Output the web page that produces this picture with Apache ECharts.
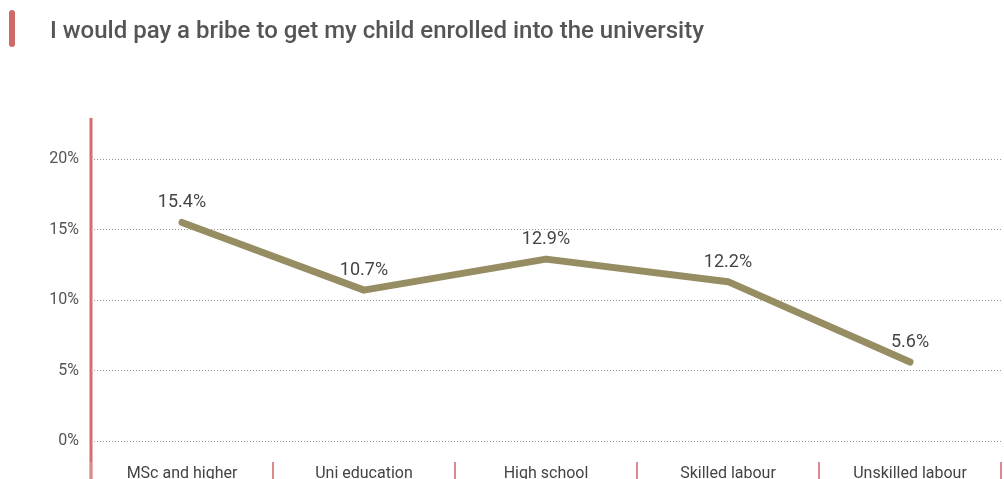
<!DOCTYPE html>
<html><head><meta charset="utf-8">
<script src="https://cdn.jsdelivr.net/npm/echarts@6/dist/echarts.min.js"></script>
<style>html,body{margin:0;padding:0;background:#fff}#c{width:1004px;height:479px}</style>
</head><body><div id="c"></div>
<script>
const title = "I would pay a bribe to get my child enrolled into the university";
const categories = ["MSc and higher", "Uni education", "High school", "Skilled labour", "Unskilled labour"];
const values = [15.5, 10.7, 12.9, 11.3, 5.6];
const valueLabels = ["15.4%", "10.7%", "12.9%", "12.2%", "5.6%"];
const yTicks = [0, 5, 10, 15, 20];

const chart = echarts.init(document.getElementById('c'), null, {renderer: 'canvas'});
chart.setOption({
  animation: false,
  textStyle: {fontFamily: 'Roboto'},
  title: {
    text: title, left: 45, top: 15,
    textStyle: {fontSize: 24, fontWeight: 500, color: '#555555', fontFamily: 'Roboto'}
  },
  graphic: [
    {type: 'rect', shape: {x: 9, y: 10, width: 6, height: 37, r: 3}, style: {fill: '#cf6a6a'}},
    {type: 'line', shape: {x1: 91, y1: 118, x2: 91, y2: 479}, style: {stroke: '#d46d6d', lineWidth: 3}}
  ],
  grid: [
    {left: 91, right: 3, top: 159, bottom: 38, outerBoundsMode: 'none', containLabel: false},
    {left: 91, right: 3, top: 462, bottom: 0, outerBoundsMode: 'none', containLabel: false}
  ],
  xAxis: [
    {
      type: 'category', data: categories, boundaryGap: true, gridIndex: 0,
      axisLine: {show: false}, axisTick: {show: false}, axisLabel: {show: false}
    },
    {
      type: 'category', data: categories, boundaryGap: true, gridIndex: 1, position: 'bottom',
      axisLine: {show: false},
      axisTick: {show: true, inside: true, length: 17, lineStyle: {color: '#d98a8a', width: 2}},
      axisLabel: {inside: true, color: '#444', fontSize: 16, margin: -3, fontFamily: 'Roboto'}
    }
  ],
  yAxis: [
    {
      type: 'value', min: 0, max: 20, interval: 5, gridIndex: 0,
      axisLine: {show: false}, axisTick: {show: false},
      axisLabel: {color: '#555', fontSize: 16, margin: 12, formatter: v => yTicks.includes(v) ? v + '%' : ''},
      splitLine: {show: true, lineStyle: {color: '#9a9a9a', type: [1, 2], width: 1}}
    },
    {type: 'value', gridIndex: 1, show: false}
  ],
  series: [{
    type: 'line', data: values, xAxisIndex: 0, yAxisIndex: 0,
    showSymbol: true, symbol: 'circle', symbolSize: 1,
    itemStyle: {color: 'rgba(0,0,0,0)'},
    lineStyle: {color: '#968d62', width: 7, cap: 'round', join: 'round'},
    label: {show: true, position: 'top', distance: 10, fontSize: 18, color: '#444',
      formatter: p => valueLabels[p.dataIndex]},
    emphasis: {disabled: true}
  }]
});
</script></body></html>
